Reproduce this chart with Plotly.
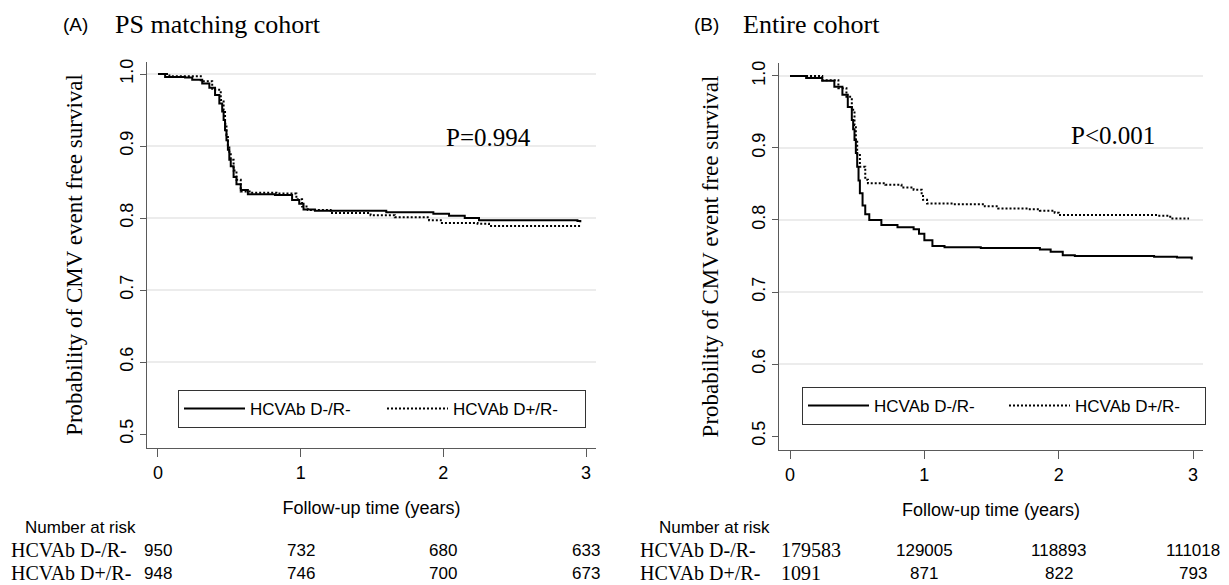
import plotly.graph_objects as go

# ---------------- data ----------------
group_labels = ["HCVAb D-/R-", "HCVAb D+/R-"]
panel_titles = ["PS matching cohort", "Entire cohort"]
panel_tags = ["(A)", "(B)"]
p_values = ["P=0.994", "P<0.001"]
x_ticks = [0, 1, 2, 3]
y_ticks = [0.5, 0.6, 0.7, 0.8, 0.9, 1.0]
grid_vals = [0.6, 0.7, 0.8, 0.9, 1.0]

# Panel A (PS matching cohort)
a_neg_t = [0, 0.05, 0.19, 0.24, 0.31, 0.36, 0.40, 0.43, 0.45, 0.46, 0.47, 0.48, 0.49, 0.50, 0.51, 0.53, 0.55, 0.58, 0.63,
           0.82, 0.94, 0.99, 1.02, 1.10, 1.60, 1.93, 2.04, 2.15, 2.25, 2.94, 2.96]
a_neg_s = [1.0, 0.996, 0.995, 0.992, 0.987, 0.981, 0.971, 0.959, 0.948, 0.936, 0.922, 0.908, 0.895, 0.881, 0.872, 0.857, 0.847, 0.839, 0.833,
           0.832, 0.825, 0.820, 0.812, 0.810, 0.808, 0.806, 0.803, 0.800, 0.797, 0.796, 0.794]
a_pos_t = [0, 0.08, 0.30, 0.38, 0.44, 0.46, 0.47, 0.48, 0.49, 0.50, 0.51, 0.53, 0.55, 0.58, 0.66, 0.83, 0.97, 1.01, 1.05,
           1.21, 1.49, 1.66, 1.90, 1.99, 2.24, 2.32, 2.96]
a_pos_s = [1.0, 0.997, 0.990, 0.978, 0.964, 0.950, 0.931, 0.915, 0.898, 0.890, 0.881, 0.866, 0.853, 0.837, 0.835, 0.834, 0.826, 0.816, 0.811,
           0.807, 0.804, 0.801, 0.797, 0.793, 0.792, 0.789, 0.789]
a_risk_neg = [950, 732, 680, 633]
a_risk_pos = [948, 746, 700, 673]

# Panel B (Entire cohort)
b_neg_t = [0, 0.12, 0.24, 0.33, 0.39, 0.43, 0.46, 0.47, 0.48, 0.49, 0.50, 0.51, 0.52, 0.54, 0.56, 0.59, 0.68, 0.80, 0.92, 0.96, 1.00, 1.06,
           1.15, 1.42, 1.86, 1.94, 2.03, 2.12, 2.71, 2.88, 2.99]
b_neg_s = [1.0, 0.997, 0.9935, 0.985, 0.974, 0.957, 0.939, 0.926, 0.911, 0.893, 0.874, 0.855, 0.837, 0.820, 0.808, 0.800, 0.793, 0.790, 0.787, 0.781, 0.772, 0.764,
           0.762, 0.761, 0.759, 0.756, 0.751, 0.750, 0.749, 0.748, 0.745]
b_pos_t = [0, 0.24, 0.36, 0.42, 0.46, 0.48, 0.49, 0.50, 0.52, 0.56, 0.58, 0.71, 0.83, 0.92, 0.98, 0.99, 1.02, 1.21, 1.45, 1.55, 1.77, 1.86,
           1.97, 2.00, 2.74, 2.83, 2.97]
b_pos_s = [1.0, 0.994, 0.983, 0.971, 0.953, 0.932, 0.911, 0.892, 0.874, 0.856, 0.851, 0.849, 0.845, 0.842, 0.837, 0.828, 0.823, 0.822, 0.819, 0.816, 0.815, 0.813,
           0.810, 0.807, 0.806, 0.802, 0.802]
b_risk_neg = [179583, 129005, 118893, 111018]
b_risk_pos = [1091, 871, 822, 793]

# ---------------- styling ----------------
W, H = 1229, 585
SERIF = "Liberation Serif, Times New Roman, serif"
SANS = "Liberation Sans Narrow, Arial Narrow, Liberation Sans, Arial, sans-serif"
AXIS_COL = "#5a5a5a"
GRID_COL = "#e6e6e6"


def px_x(v):
    return v / W


def px_y(v):
    return 1 - v / H


fig = go.Figure()

panels = [
    dict(t=(a_neg_t, a_pos_t), s=(a_neg_s, a_pos_s), xa="x", ya="y", leg="legend"),
    dict(t=(b_neg_t, b_pos_t), s=(b_neg_s, b_pos_s), xa="x2", ya="y2", leg="legend2"),
]
for p in panels:
    for k in range(2):
        fig.add_trace(go.Scatter(
            x=p["t"][k], y=p["s"][k], mode="lines", line_shape="hv",
            name=group_labels[k],
            line=dict(color="black", width=2, dash="solid" if k == 0 else "2px,2px"),
            xaxis=p["xa"], yaxis=p["ya"], legend=p["leg"], hoverinfo="skip",
        ))

axis_common = dict(
    showline=True, linecolor=AXIS_COL, linewidth=1, ticks="outside", tickcolor=AXIS_COL,
    zeroline=False, tickfont=dict(family=SANS, size=18, color="black"), automargin=False,
)
xtitle_font = dict(family=SANS, size=18, color="black")
ytitle_font = dict(family=SERIF, size=23, color="black")

fig.update_layout(
    width=W, height=H, margin=dict(l=0, r=0, t=0, b=0, autoexpand=False),
    paper_bgcolor="white", plot_bgcolor="white", showlegend=True,
    xaxis=dict(domain=[px_x(147), px_x(596)], range=[-0.077, 3.07], tickvals=x_ticks, ticklen=8,
               showgrid=False, anchor="y",
               title=dict(text="Follow-up time (years)", font=xtitle_font, standoff=19),
               **axis_common),
    yaxis=dict(domain=[px_y(448), px_y(62)], range=[0.4806, 1.0167], tickvals=y_ticks, tickformat=".1f",
               tickangle=-90, ticklen=6, showgrid=False, anchor="x",
               title=dict(text="Probability of CMV event free survival", font=ytitle_font, standoff=27),
               **axis_common),
    xaxis2=dict(domain=[px_x(779), px_x(1203)], range=[-0.082, 3.074], tickvals=x_ticks, ticklen=8,
                showgrid=False, anchor="y2",
                title=dict(text="Follow-up time (years)", font=xtitle_font, standoff=19),
                **axis_common),
    yaxis2=dict(domain=[px_y(450), px_y(63)], range=[0.4806, 1.018], tickvals=y_ticks, tickformat=".1f",
                tickangle=-90, ticklen=6, showgrid=False, anchor="x2",
                title=dict(text="Probability of CMV event free survival", font=ytitle_font, standoff=23),
                **axis_common),
    legend=dict(orientation="h", x=px_x(178), y=px_y(390), xanchor="left", yanchor="top",
                bordercolor="#333333", borderwidth=1, bgcolor="white", entrywidth=127, itemwidth=61,
                font=dict(family=SANS, size=17, color="black"), tracegroupgap=0),
    legend2=dict(orientation="h", x=px_x(802), y=px_y(387), xanchor="left", yanchor="top",
                 bordercolor="#333333", borderwidth=1, bgcolor="white", entrywidth=125, itemwidth=61,
                 font=dict(family=SANS, size=17, color="black"), tracegroupgap=0),
)

# gridlines at labelled values (above 0.5)
for xa, ya in (("x", "y"), ("x2", "y2")):
    for g in grid_vals:
        fig.add_shape(type="line", xref=f"{xa} domain", yref=ya, x0=0, x1=1, y0=g, y1=g,
                      line=dict(color=GRID_COL, width=1.5), layer="below")

ann = []
# panel tags and titles
for tag, title, tag_x, title_x in zip(panel_tags, panel_titles, (75, 707), (113, 741)):
    ann.append(dict(text=tag, x=px_x(tag_x), y=px_y(25), xref="paper", yref="paper", showarrow=False,
                    xanchor="center", yanchor="middle", font=dict(family=SANS, size=19, color="black")))
    ann.append(dict(text=title, x=px_x(title_x), y=px_y(25), xref="paper", yref="paper", showarrow=False,
                    xanchor="left", yanchor="middle", font=dict(family=SERIF, size=26, color="black")))

# p-values
ann.append(dict(text=p_values[0], x=2.32, y=0.9125, xref="x", yref="y", showarrow=False,
                font=dict(family=SERIF, size=25, color="black")))
ann.append(dict(text=p_values[1], x=2.405, y=0.9167, xref="x2", yref="y2", showarrow=False,
                font=dict(family=SERIF, size=25, color="black")))

ROW_Y = (550, 573)
# number at risk tables
for nar_x, lab_x in ((80, 9), (714, 638)):
    ann.append(dict(text="Number at risk", x=px_x(nar_x), y=px_y(527), xref="paper", yref="paper",
                    showarrow=False, xanchor="center", yanchor="middle",
                    font=dict(family=SANS, size=17, color="black")))
    for lab, ry in zip(group_labels, ROW_Y):
        ann.append(dict(text=lab, x=px_x(lab_x), y=px_y(ry), xref="paper", yref="paper",
                        showarrow=False, xanchor="left", yanchor="middle",
                        font=dict(family=SERIF, size=20, color="black")))

for vals, ry in zip((a_risk_neg, a_risk_pos), ROW_Y):
    for xt, v in zip(x_ticks, vals):
        ann.append(dict(text=str(v), x=xt, y=px_y(ry), xref="x", yref="paper", showarrow=False,
                        xanchor="center", yanchor="middle", font=dict(family=SANS, size=17, color="black")))

for vals, ry in zip((b_risk_neg, b_risk_pos), ROW_Y):
    for i, (xt, v) in enumerate(zip(x_ticks, vals)):
        if i == 0:
            ann.append(dict(text=str(v), x=-0.08, y=px_y(ry), xref="x2", yref="paper", showarrow=False,
                            xanchor="left", yanchor="middle", font=dict(family=SERIF, size=20, color="black")))
        else:
            ann.append(dict(text=str(v), x=xt, y=px_y(ry), xref="x2", yref="paper", showarrow=False,
                            xanchor="center", yanchor="middle", font=dict(family=SANS, size=17, color="black")))

fig.update_layout(annotations=ann)
fig.write_html("out.html", config={"displayModeBar": False},
               post_script="document.body.style.margin='0';")
